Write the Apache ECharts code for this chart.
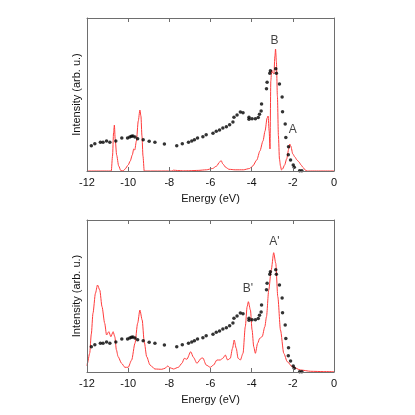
<!DOCTYPE html>
<html><head><meta charset="utf-8">
<script src="https://cdn.jsdelivr.net/npm/echarts@6/dist/echarts.min.js"></script>
<style>html,body{margin:0;padding:0;background:#fff}#c{width:415px;height:415px}</style>
</head><body><div id="c"></div>
<script>
// Experimental points (same in both panels): [energy eV, intensity arb.]
var expData = [[-11.79,25.3],[-11.62,27.3],[-11.35,28.7],[-11.22,28.7],[-11.05,30],[-10.89,28.7],[-10.6,30],[-10.31,33],[-10.03,33],[-9.92,34],[-9.84,34.7],[-9.77,35],[-9.67,34],[-9.54,32.3],[-9.27,31.3],[-8.98,29.7],[-8.70,28.7],[-8.24,27],[-7.64,25.3],[-7.37,27.3],[-7.07,28.7],[-6.91,30],[-6.78,31.3],[-6.63,33],[-6.37,34.3],[-6.21,36.3],[-5.88,37.7],[-5.72,39.7],[-5.56,41],[-5.40,43],[-5.23,44.3],[-5.07,46.3],[-4.91,49],[-4.86,53.7],[-4.71,56],[-4.55,59],[-4.42,58.3],[-4.13,53.7],[-4.13,51.7],[-3.98,52.3],[-3.82,52.3],[-3.68,53.5],[-3.62,56.7],[-3.54,60],[-3.52,67],[-3.28,82.3],[-3.25,88.7],[-3.12,97.7],[-3.09,100.3],[-2.83,102.3],[-2.80,97.7],[-2.65,87],[-2.52,74],[-2.50,59.3],[-2.37,47],[-2.34,33.5],[-2.21,24.3],[-2.22,16.3],[-2.11,11],[-1.98,6],[-1.93,3.7],[-1.67,0.3],[-1.56,0.3]];

// Calculated spectrum, top panel
var calcTop = [[-12,0],[-10.82,0],[-10.76,15],[-10.71,38],[-10.67,46],[-10.63,32],[-10.56,16],[-10.46,5],[-10.36,0.5],[-10.25,0],[-10.15,2],[-10.0,6],[-9.9,10],[-9.8,16],[-9.73,22],[-9.68,21],[-9.6,30],[-9.51,50],[-9.43,61],[-9.38,55],[-9.33,35],[-9.28,15],[-9.22,0],[-7.9,0],[-7.8,0.8],[-7.6,0.5],[-7.3,0.2],[-7.0,0.3],[-6.6,0.6],[-6.2,1.2],[-5.9,2.5],[-5.7,5],[-5.56,9],[-5.48,10.3],[-5.4,7],[-5.25,3.5],[-5.1,1.7],[-4.8,1.2],[-4.4,1.2],[-4.1,2.5],[-3.95,5],[-3.75,11],[-3.6,20],[-3.45,30],[-3.35,40],[-3.25,53],[-3.2,55],[-3.15,40],[-3.11,22],[-3.07,90],[-3.03,101],[-2.97,98],[-2.92,97],[-2.87,115],[-2.84,122],[-2.80,110],[-2.75,75],[-2.70,35],[-2.65,12],[-2.6,5],[-2.55,1],[-2.5,2],[-2.4,6],[-2.3,12],[-2.2,22],[-2.15,27],[-2.1,25],[-2.0,17],[-1.9,14],[-1.8,11],[-1.7,9],[-1.6,6],[-1.5,3.5],[-1.4,1],[-1.3,0],[0,0]];

// Calculated spectrum, bottom panel
var calcBottom = [[-12,6],[-11.98,8.7],[-11.87,18.7],[-11.79,38],[-11.71,58.7],[-11.59,78.7],[-11.49,87],[-11.38,82],[-11.27,65.3],[-11.14,48.7],[-11.05,37],[-10.94,40.3],[-10.84,35.3],[-10.73,40.3],[-10.65,35.3],[-10.57,22],[-10.49,15.3],[-10.32,8.7],[-10.16,4.7],[-10.0,4.7],[-9.83,12],[-9.67,28.7],[-9.54,48.7],[-9.43,62],[-9.32,52],[-9.22,30.3],[-9.10,15.3],[-8.94,7],[-8.70,3],[-8.37,2.7],[-8.21,3.7],[-8.08,6],[-7.97,4.3],[-7.80,3],[-7.56,4.7],[-7.39,8.7],[-7.27,13.7],[-7.15,12.7],[-6.96,20.3],[-6.83,14.7],[-6.66,8.7],[-6.45,13.7],[-6.37,14],[-6.21,7],[-6.01,4.7],[-5.85,7],[-5.69,12],[-5.53,12],[-5.40,13.7],[-5.28,17],[-5.17,12],[-5.04,13.7],[-4.93,23.7],[-4.85,32],[-4.75,23.7],[-4.66,13.7],[-4.55,12],[-4.42,18.7],[-4.31,45.3],[-4.22,65.3],[-4.16,70.3],[-4.06,62],[-3.98,42],[-3.90,25.3],[-3.82,18.7],[-3.71,28.7],[-3.61,33.7],[-3.49,35.3],[-3.36,45.3],[-3.28,55.3],[-3.17,82],[-3.05,102],[-2.93,119.3],[-2.83,108.7],[-2.73,75.3],[-2.60,42],[-2.44,18.7],[-2.27,10.3],[-2.03,5.3],[-1.62,2],[-1.13,0.7],[-0.5,0.4],[0,0.3]];

// Peak labels: [energy, intensity, text]
var labelsTop = [[-2.89,130,'B'],[-2.0,41,'A']];
var labelsBottom = [[-2.89,130,"A'"],[-4.18,83,"B'"]];

var xTicks = [-12,-10,-8,-6,-4,-2,0];
var xTitle = 'Energy (eV)';
var yTitle = 'Intensity (arb. u.)';

var FONT = 'Liberation Sans, Arial, sans-serif';
var GRAY = '#6e6e6e';
var RED = '#ff3b3b';

function xAxes(gi){
  return [{
    type:'value', gridIndex:gi, min:xTicks[0], max:xTicks[xTicks.length-1], interval:2, z:10,
    axisLine:{show:true, onZero:false, lineStyle:{color:GRAY,width:1}},
    axisTick:{show:true, inside:true, length:4, lineStyle:{color:GRAY}},
    axisLabel:{show:true, margin:6, color:'#111', fontSize:11, fontFamily:FONT},
    splitLine:{show:false},
    name:xTitle, nameLocation:'middle', nameGap:22,
    nameTextStyle:{color:'#111', fontSize:11, fontFamily:FONT}
  },{
    type:'value', gridIndex:gi, position:'top', min:xTicks[0], max:xTicks[xTicks.length-1], interval:2, z:10,
    axisLine:{show:true, onZero:false, lineStyle:{color:GRAY,width:1}},
    axisTick:{show:true, inside:true, length:4, lineStyle:{color:GRAY}},
    axisLabel:{show:false}, splitLine:{show:false}
  }];
}
function yAxes(gi, max){
  return [{
    type:'value', gridIndex:gi, min:0, max:max, z:10,
    axisLine:{show:true, onZero:false, lineStyle:{color:GRAY,width:1}},
    axisTick:{show:false}, axisLabel:{show:false}, splitLine:{show:false},
    name:yTitle, nameLocation:'middle', nameGap:5,
    nameTextStyle:{color:'#111', fontSize:11, fontFamily:FONT}
  },{
    type:'value', gridIndex:gi, position:'right', min:0, max:max, z:10,
    axisLine:{show:true, onZero:false, lineStyle:{color:GRAY,width:1}},
    axisTick:{show:false}, axisLabel:{show:false}, splitLine:{show:false}
  }];
}

var chart = echarts.init(document.getElementById('c'), null, {renderer:'canvas'});
var xa = xAxes(0).concat(xAxes(1));
var ya = yAxes(0,153).concat(yAxes(1,152));

function lineSeries(xi, yi, data){
  return {type:'line', xAxisIndex:xi, yAxisIndex:yi, data:data, showSymbol:false, symbol:'none',
    smooth:0.25, smoothMonotone:'x', lineStyle:{color:RED, width:1}, z:2, animation:false, clip:true};
}
function dotSeries(xi, yi){
  return {type:'scatter', xAxisIndex:xi, yAxisIndex:yi, data:expData, symbol:'circle', symbolSize:3.5,
    itemStyle:{color:'#000'}, z:5, animation:false};
}
function labelSeries(xi, yi, data){
  return {type:'scatter', xAxisIndex:xi, yAxisIndex:yi, data:data, symbolSize:0, z:6, animation:false,
    label:{show:true, position:'inside', formatter:function(p){return p.data[2];}, color:'#111', fontSize:12, fontFamily:FONT}};
}

chart.setOption({
  animation:false,
  grid:[{left:87, right:81, top:18, height:153},{left:87, right:81, top:220, height:152}],
  xAxis:xa, yAxis:ya,
  series:[
    lineSeries(0,0,calcTop), dotSeries(0,0), labelSeries(0,0,labelsTop),
    lineSeries(2,2,calcBottom), dotSeries(2,2), labelSeries(2,2,labelsBottom)
  ]
});
</script></body></html>
